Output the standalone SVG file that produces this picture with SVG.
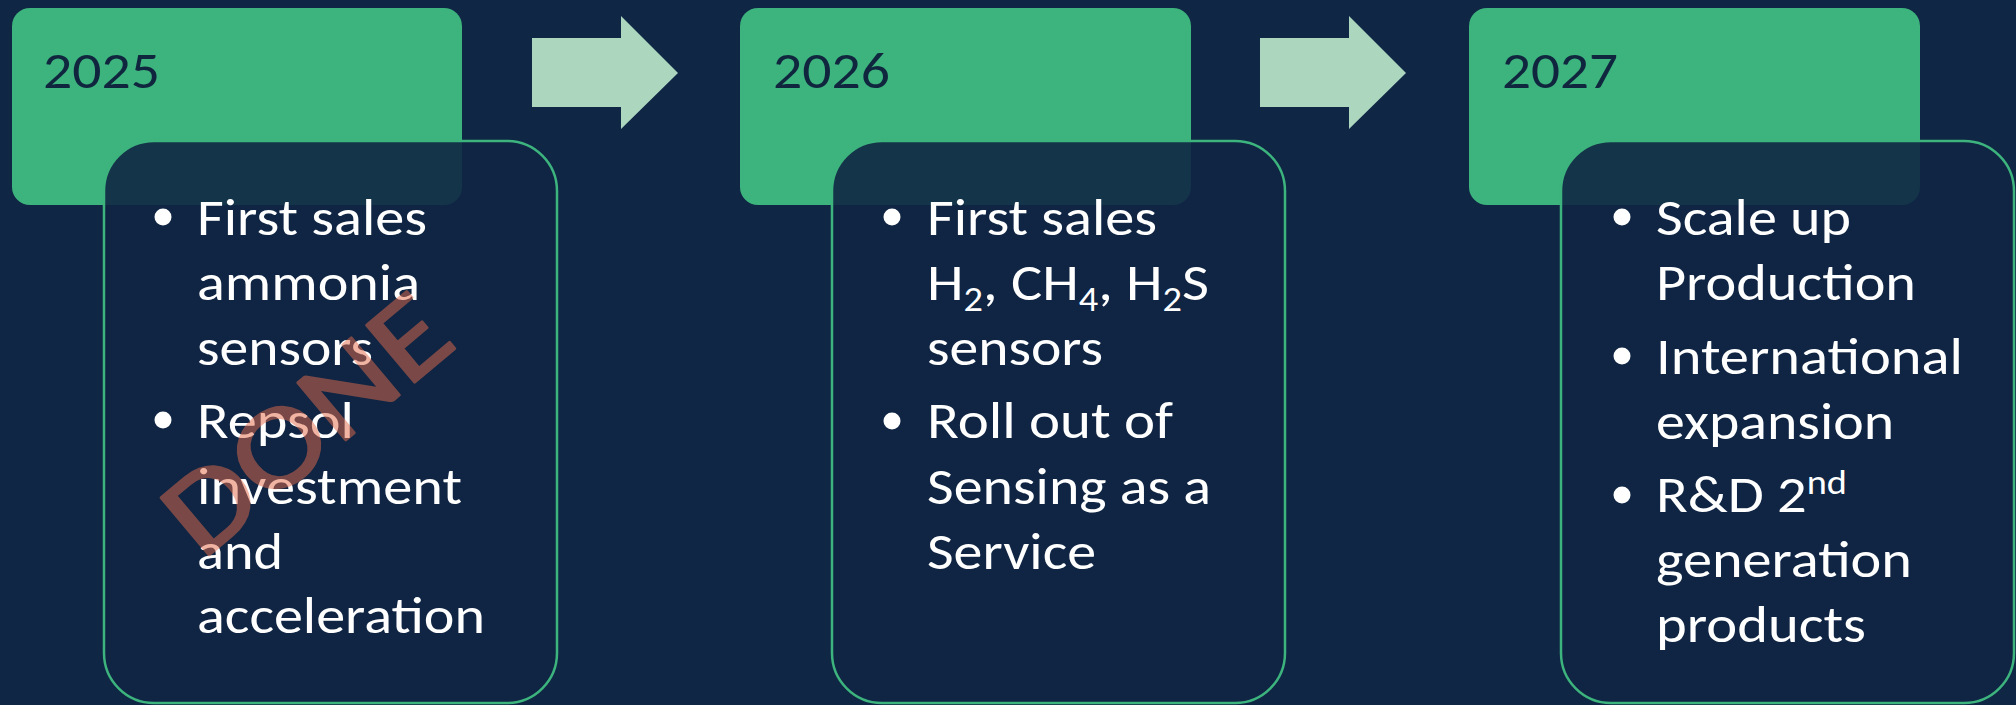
<svg xmlns="http://www.w3.org/2000/svg" width="2016" height="705" viewBox="0 0 2016 705">
<style>
.bg{fill:#0F2644}
.yearbox{fill:#3DB37D}
.card{fill:#0F2644;fill-opacity:0.9;stroke:#3DB37D;stroke-width:2.5}
.year{font-family:Carlito,Lato,"Liberation Sans",sans-serif;font-size:52px;fill:#10263F}
.body{font-family:Carlito,Lato,"Liberation Sans",sans-serif;font-size:52px;fill:#FFFFFF}
.bul{fill:#FFFFFF}
.arrow{fill:#ADD6BF}
.stamp{font-family:Carlito,Lato,"Liberation Sans",sans-serif;font-size:117px;fill:#E46C4A;stroke:#E46C4A;stroke-width:2.5;stroke-linejoin:round}
</style>
<rect class="bg" x="0" y="0" width="2016" height="705"/>
<g id="connectors">
<polygon class="arrow" points="532,38 621,38 621,16 678,73 621,129 621,107 532,107"/>
<polygon class="arrow" points="1260,38 1349,38 1349,16 1406,73 1349,129 1349,107 1260,107"/>
</g>
<g id="node-2025">
<rect class="yearbox" x="12" y="8" width="450" height="197" rx="18" ry="18"/>
<text class="year" x="43" y="88" textLength="117" lengthAdjust="spacingAndGlyphs">2025</text>
<rect class="card" x="104" y="141" width="453" height="562" rx="50" ry="50"/>
<circle class="bul" cx="163" cy="217" r="8.5"/>
<circle class="bul" cx="163" cy="420" r="8.5"/>
<text class="body" x="197" y="235" textLength="230" lengthAdjust="spacingAndGlyphs">First sales</text>
<text class="body" x="197" y="300" textLength="223" lengthAdjust="spacingAndGlyphs">ammonia</text>
<text class="body" x="197" y="365" textLength="176" lengthAdjust="spacingAndGlyphs">sensors</text>
<text class="body" x="197" y="438" textLength="157" lengthAdjust="spacingAndGlyphs">Repsol</text>
<text class="body" x="197" y="504" textLength="265" lengthAdjust="spacingAndGlyphs">investment</text>
<text class="body" x="197" y="569" textLength="86" lengthAdjust="spacingAndGlyphs">and</text>
<text class="body" x="197" y="633" textLength="288" lengthAdjust="spacingAndGlyphs">acceleration</text>
</g>
<g id="node-2026">
<rect class="yearbox" x="740" y="8" width="451" height="197" rx="18" ry="18"/>
<text class="year" x="773" y="88" textLength="117" lengthAdjust="spacingAndGlyphs">2026</text>
<rect class="card" x="832" y="141" width="453" height="562" rx="50" ry="50"/>
<circle class="bul" cx="892" cy="217" r="8.5"/>
<circle class="bul" cx="892" cy="421" r="8.5"/>
<text class="body" x="927" y="235" textLength="230" lengthAdjust="spacingAndGlyphs">First sales</text>
<text class="body" x="927" y="300" textLength="282" lengthAdjust="spacingAndGlyphs">H<tspan dy="11" font-size="34">2</tspan><tspan dy="-11">, CH</tspan><tspan dy="11" font-size="34">4</tspan><tspan dy="-11">, H</tspan><tspan dy="11" font-size="34">2</tspan><tspan dy="-11">S</tspan></text>
<text class="body" x="927" y="365" textLength="176" lengthAdjust="spacingAndGlyphs">sensors</text>
<text class="body" x="927" y="438" textLength="246" lengthAdjust="spacingAndGlyphs">Roll out of</text>
<text class="body" x="927" y="504" textLength="284" lengthAdjust="spacingAndGlyphs">Sensing as a</text>
<text class="body" x="927" y="569" textLength="169" lengthAdjust="spacingAndGlyphs">Service</text>
</g>
<g id="node-2027">
<rect class="yearbox" x="1469" y="8" width="451" height="197" rx="18" ry="18"/>
<text class="year" x="1502" y="88" textLength="116" lengthAdjust="spacingAndGlyphs">2027</text>
<rect class="card" x="1561" y="141" width="453" height="562" rx="50" ry="50"/>
<circle class="bul" cx="1622" cy="217" r="8.5"/>
<circle class="bul" cx="1622" cy="356" r="8.5"/>
<circle class="bul" cx="1622" cy="495" r="8.5"/>
<text class="body" x="1656" y="235" textLength="195" lengthAdjust="spacingAndGlyphs">Scale up</text>
<text class="body" x="1656" y="300" textLength="260" lengthAdjust="spacingAndGlyphs">Production</text>
<text class="body" x="1656" y="374" textLength="307" lengthAdjust="spacingAndGlyphs">International</text>
<text class="body" x="1656" y="439" textLength="238" lengthAdjust="spacingAndGlyphs">expansion</text>
<text class="body" x="1656" y="512" textLength="191" lengthAdjust="spacingAndGlyphs">R&amp;D 2<tspan dy="-18" font-size="34">nd</tspan></text>
<text class="body" x="1656" y="577" textLength="256" lengthAdjust="spacingAndGlyphs">generation</text>
<text class="body" x="1656" y="642" textLength="210" lengthAdjust="spacingAndGlyphs">products</text>
</g>
<g id="stamp-done" opacity="0.5">
<text class="stamp" transform="translate(202,561) rotate(-40)" textLength="336" lengthAdjust="spacingAndGlyphs">DONE</text>
</g>
</svg>
